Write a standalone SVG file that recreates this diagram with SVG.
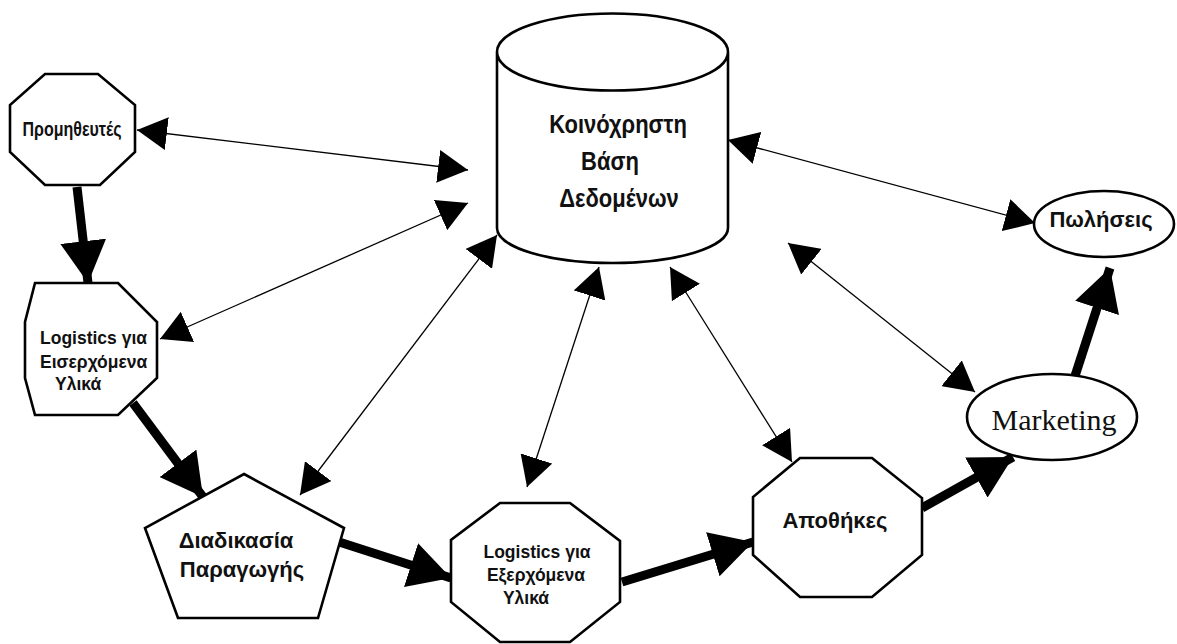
<svg xmlns="http://www.w3.org/2000/svg" width="1177" height="644" viewBox="0 0 1177 644">
<style>
.shape{fill:#fff;stroke:#000;stroke-width:2.6;stroke-linejoin:miter}
.t{font-family:"Liberation Sans",Arial,sans-serif;font-weight:bold;fill:#111}
.thin{stroke:#000;stroke-width:1.3;fill:none;marker-start:url(#th);marker-end:url(#th)}
.thick{stroke:#000;stroke-width:9;fill:none;marker-end:url(#tk)}
</style>
<defs>
<marker id="th" markerUnits="userSpaceOnUse" viewBox="0 0 30 33" markerWidth="30" markerHeight="33" refX="30" refY="16.5" orient="auto-start-reverse"><path d="M0,0 L30,16.5 L0,33 z" fill="#000"/></marker>
<marker id="tk" markerUnits="userSpaceOnUse" viewBox="0 0 42 46" markerWidth="42" markerHeight="46" refX="42" refY="23" orient="auto"><path d="M0,0 L42,23 L0,46 z" fill="#000"/></marker>
</defs>
<rect width="1177" height="644" fill="#fff"/>
<g id="connectors">
<line class="thin" x1="137" y1="130" x2="468" y2="170"/>
<line class="thin" x1="160" y1="339" x2="468" y2="203"/>
<line class="thin" x1="300" y1="495" x2="497" y2="235"/>
<line class="thin" x1="527" y1="487" x2="599" y2="267"/>
<line class="thin" x1="792" y1="462" x2="670" y2="267"/>
<line class="thin" x1="975" y1="392" x2="788" y2="243"/>
<line class="thin" x1="1035" y1="223" x2="728" y2="140"/>
<line class="thick" x1="77" y1="187" x2="88" y2="283"/>
<line class="thick" x1="133" y1="403" x2="203" y2="497"/>
<line class="thick" x1="336" y1="541" x2="451" y2="578"/>
<line class="thick" x1="622" y1="582" x2="753" y2="542"/>
<line class="thick" x1="922" y1="508" x2="1013" y2="457"/>
<line class="thick" x1="1075" y1="376" x2="1110" y2="268"/>
</g>
<g id="db">
<path class="shape" d="M497,52 L497,228 A115.5,35 0 0 0 728,228 L728,52 A115.5,38.5 0 0 0 497,52 A115.5,38.5 0 0 0 728,52"/>
<text class="t" font-size="22" text-anchor="middle" transform="translate(0,-22) scale(1,1.15)"><tspan x="618" y="134.8">Κοινόχρηστη</tspan><tspan x="610" y="167">Βάση</tspan><tspan x="619" y="199">Δεδομένων</tspan></text>
</g>
<g id="suppliers">
<polygon class="shape" points="45,74 98,74 135,105 135,152 100,185 45,185 10,152 10,105"/>
<text class="t" font-size="16" x="0" y="0" text-anchor="middle" transform="translate(72,136) scale(1,1.25)">Προμηθευτές</text>
</g>
<g id="inbound">
<polygon class="shape" points="35,283 118,283 157,322 157,378 118,415 35,415 25,378 25,322"/>
<text class="t" font-size="17.5"><tspan x="40" y="344">Logistics για</tspan><tspan x="40" y="368">Εισερχόμενα</tspan><tspan x="55" y="390">Υλικά</tspan></text>
</g>
<g id="production">
<polygon class="shape" points="244,474 344,528 318,618 178,618 145,528"/>
<text class="t" font-size="22" text-anchor="middle"><tspan x="236" y="548">Διαδικασία</tspan><tspan x="242" y="577">Παραγωγής</tspan></text>
</g>
<g id="outbound">
<polygon class="shape" points="500,503 570,503 620,541 620,602 570,642 500,642 451,602 451,540"/>
<text class="t" font-size="17.5" text-anchor="middle"><tspan x="537" y="558">Logistics για</tspan><tspan x="536" y="581">Εξερχόμενα</tspan><tspan x="526" y="604">Υλικά</tspan></text>
</g>
<g id="warehouses">
<polygon class="shape" points="800,458 872,458 922,498 922,555 872,597 800,597 753,555 753,497"/>
<text class="t" font-size="22" x="835" y="528" text-anchor="middle">Αποθήκες</text>
</g>
<g id="marketing">
<ellipse class="shape" cx="1052" cy="417" rx="85" ry="43"/>
<text font-family="'Liberation Serif','Times New Roman',serif" font-size="30" x="1054" y="430" text-anchor="middle" fill="#111">Marketing</text>
</g>
<g id="sales">
<ellipse class="shape" cx="1104" cy="224" rx="70" ry="33"/>
<text class="t" font-size="22" x="1101" y="227" text-anchor="middle">Πωλήσεις</text>
</g>
</svg>
